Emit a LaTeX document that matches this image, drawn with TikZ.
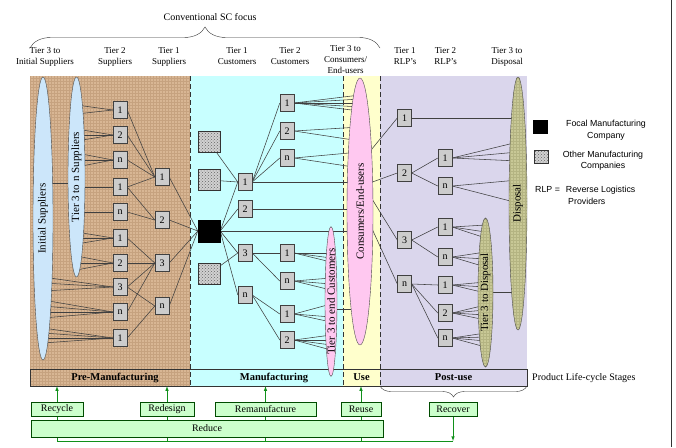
\documentclass[tikz,border=0pt]{standalone}
\usepackage{fontspec}
\setmainfont{Liberation Serif}
\newfontfamily\legendfont{Liberation Sans}
\usetikzlibrary{shapes.geometric,patterns,decorations.pathreplacing,calc}

\definecolor{colPre}{HTML}{D8B694}
\definecolor{colPreGrid}{HTML}{C6A27F}
\definecolor{colMfg}{HTML}{C8FFFF}
\definecolor{colUse}{HTML}{FFFFCC}
\definecolor{colPost}{HTML}{DAD6EC}
\definecolor{colBlue}{HTML}{CCE6FA}
\definecolor{colPink}{HTML}{FFC8F0}
\definecolor{colOlive}{HTML}{C8C896}
\definecolor{colOliveGrid}{HTML}{B4B482}
\definecolor{colR}{HTML}{CCFFCC}
\definecolor{colArrow}{HTML}{10901A}

\pgfdeclarelayer{bg}
\pgfdeclarelayer{fg}
\pgfsetlayers{bg,main,fg}

\tikzset{
	tierbox/.style={draw=black!75, fill=black!20, minimum width=14pt, minimum height=17pt, inner sep=0pt, font=\fontsize{10}{10}\selectfont},
	othersq/.style={draw=black!80, preaction={fill=black!18}, pattern=crosshatch dots, pattern color=black!60, minimum width=22pt, minimum height=21pt, inner sep=0pt},
	tierell/.style={ellipse, draw=black!70, rotate=90, inner xsep=0pt, inner ysep=-5pt, font=\fontsize{11}{11}\selectfont},
	dispell/.style={tierell, preaction={fill=colOlive}, pattern=grid, pattern color=colOliveGrid},
	link/.style={draw=black!75, line width=0.55pt},
	rbox/.style={draw=green!30!black, fill=colR, minimum height=14pt, inner sep=0pt, font=\fontsize{10}{10}\selectfont},
	rarrow/.style={draw=colArrow, -latex, line width=0.6pt},
	stagelab/.style={font=\bfseries\fontsize{10.5}{10.5}\selectfont, inner sep=0pt, minimum height=17pt},
	tierhead/.style={align=center, font=\fontsize{9}{11}\selectfont, inner sep=0pt},
	legtext/.style={align=center, font=\legendfont\fontsize{8.8}{11.5}\selectfont, inner sep=0pt},
	stageline/.style={black!80, dash pattern=on 5pt off 3pt, line width=0.6pt},
}

\begin{document}
\begin{tikzpicture}[x=1pt, y=-1pt]
	\useasboundingbox (0,0) rectangle (676,447);
	% stage areas
	\begin{pgfonlayer}{bg}
		\fill[colPre] (30,76) rectangle (190,386);
		\fill[pattern=grid, pattern color=colPreGrid] (30,76) rectangle (190,386);
		\fill[colMfg] (190,76) rectangle (343,386);
		\fill[colUse] (343,76) rectangle (380,386);
		\fill[colPost] (380,76) rectangle (527,386);
		\draw[stageline] (190,76) -- (190,386);
		\draw[stageline] (343,76) -- (343,386);
		\draw[stageline] (380,76) -- (380,386);
		\draw[black!80, line width=0.6pt] (30,369) rectangle (527,386);
		\draw[black!80, decorate, decoration={brace, amplitude=11pt}] (527,386) -- (380,386);
		\draw[black!80, decorate, decoration={brace, amplitude=21pt}] (30,48) -- (380,48);
		\draw[black!80, line width=0.8pt] (671,0) -- (671,447);
	\end{pgfonlayer}

	% ellipses and companies
	\begin{pgfonlayer}{fg}
		\node[tierell, fill=colBlue, minimum width=283pt, minimum height=20pt] (init) at (43,218.5) {Initial Suppliers};
		\node[tierell, fill=colBlue, minimum width=200pt, minimum height=17pt] (t3n) at (76.5,177) {Tier 3 to n Suppliers};
		\node[tierell, fill=colPink, minimum width=267pt, minimum height=26pt] (cons) at (360,211.5) {Consumers/End-users};
		\node[tierell, fill=colPink, minimum width=143pt, minimum height=12pt] (t3e) at (331,301.5) {Tier 3 to end Customers};
		\node[dispell, minimum width=253pt, minimum height=18pt] (disp) at (518,203.5) {Disposal};
		\node[dispell, minimum width=149pt, minimum height=15pt] (t3d) at (485.5,292.5) {Tier 3 to Disposal};

		\node[tierbox] (s2a) at (120,110) {1};
		\node[tierbox] (s2b) at (120,135) {2};
		\node[tierbox] (s2c) at (120,160) {n};
		\node[tierbox] (s2d) at (120,187) {1};
		\node[tierbox] (s2e) at (120,212) {n};
		\node[tierbox] (s2f) at (120,238) {1};
		\node[tierbox] (s2g) at (120,263) {2};
		\node[tierbox] (s2h) at (120,287) {3};
		\node[tierbox] (s2i) at (120,312) {n};
		\node[tierbox] (s2j) at (120,338) {1};
		\node[tierbox] (s1a) at (162,177) {1};
		\node[tierbox] (s1b) at (162,220) {2};
		\node[tierbox] (s1c) at (162,263) {3};
		\node[tierbox] (s1d) at (162,306) {n};

		\node[draw, fill=black, minimum size=22pt, inner sep=0pt] (focal) at (209,231) {};
		\node[othersq] (oth1) at (209,142) {};
		\node[othersq] (oth2) at (209,180) {};
		\node[othersq] (oth3) at (209,274) {};

		\node[tierbox] (c1a) at (245,182) {1};
		\node[tierbox] (c1b) at (245,209) {2};
		\node[tierbox] (c1c) at (245,253) {3};
		\node[tierbox] (c1d) at (245,295) {n};
		\node[tierbox] (c2a) at (287,103) {1};
		\node[tierbox] (c2b) at (287,131) {2};
		\node[tierbox] (c2c) at (287,158) {n};
		\node[tierbox] (c2d) at (287,253) {1};
		\node[tierbox] (c2e) at (287,281) {n};
		\node[tierbox] (c2f) at (287,314) {1};
		\node[tierbox] (c2g) at (287,340) {2};

		\node[tierbox] (r1a) at (404.5,118) {1};
		\node[tierbox] (r1b) at (404.5,173) {2};
		\node[tierbox] (r1c) at (404.5,240) {3};
		\node[tierbox] (r1d) at (404.5,284) {n};
		\node[tierbox] (r2a) at (445,158) {1};
		\node[tierbox] (r2b) at (445,186) {n};
		\node[tierbox] (r2c) at (445,227) {1};
		\node[tierbox] (r2d) at (445,257) {n};
		\node[tierbox] (r2e) at (445,285) {1};
		\node[tierbox] (r2f) at (445,313) {2};
		\node[tierbox] (r2g) at (445,338) {n};

		\node[rbox, minimum width=52pt] (recycle) at (57,409) {Recycle};
		\node[rbox, minimum width=54pt] (redesign) at (167,409) {Redesign};
		\node[rbox, minimum width=101pt] (reman) at (265.5,409) {Remanufacture};
		\node[rbox, minimum width=40pt] (reuse) at (361,409) {Reuse};
		\node[rbox, minimum width=48pt] (recover) at (453,409) {Recover};
		\node[rbox, minimum width=352pt, minimum height=17pt] (reduce) at (207,428.5) {Reduce};
	\end{pgfonlayer}

	% headings
	\node[font=\fontsize{10}{12}\selectfont] (focus) at (210,17) {Conventional SC focus};
	\node[tierhead] (hinit) at (45,56.5) {Tier 3 to\\Initial Suppliers};
	\node[tierhead] (hs2) at (115,56.5) {Tier 2\\Suppliers};
	\node[tierhead] (hs1) at (169,56.5) {Tier 1\\Suppliers};
	\node[tierhead] (hc1) at (237,56.5) {Tier 1\\Customers};
	\node[tierhead] (hc2) at (290,56.5) {Tier 2\\Customers};
	\node[tierhead] (hcons) at (345.5,60) {Tier 3 to\\Consumers/\\End-users};
	\node[tierhead] (hr1) at (405,56.5) {Tier 1\\RLP's};
	\node[tierhead] (hr2) at (445.5,56.5) {Tier 2\\RLP's};
	\node[tierhead] (hdisp) at (507,56.5) {Tier 3 to\\Disposal};

	% stages
	\node[stagelab, minimum width=160pt] (premfg) at (110,377.5) {\hspace*{10pt}Pre-Manufacturing};
	\node[stagelab, minimum width=153pt] (mfg) at (266.5,377.5) {\hspace*{15pt}Manufacturing};
	\node[stagelab, minimum width=37pt] (use) at (361.5,377.5) {Use};
	\node[stagelab, minimum width=147pt] (postuse) at (453.5,377.5) {Post-use};
	\node[font=\fontsize{10}{12}\selectfont, anchor=west, inner sep=0pt] (plcs) at (532,378) {Product Life-cycle Stages};

	% legend
	\node[draw, fill=black, minimum width=14pt, minimum height=13pt, inner sep=0pt] (legfocal) at (540,127) {};
	\node[legtext] (legfocaltext) at (606,130) {Focal Manufacturing\\Company};
	\node[othersq, minimum width=14pt, minimum height=13pt] (legother) at (541,157) {};
	\node[legtext] (legothertext) at (603,160.5) {Other Manufacturing\\Companies};
	\node[legtext, anchor=north west, align=left] (legrlp) at (535,186) {RLP =\hspace{6pt}Reverse Logistics\\\hspace*{33pt}Providers};

	% suppliers side
	\draw[link] ($(init.center |- s2d.west)+(0,-4)$) -- ($(t3n.center |- s2d.west)+(0,-4)$);
	\foreach \d in {-5,4} \draw[link] (s2a.west) -- ($(t3n.center |- s2a.west)+(0,\d)$);
	\foreach \d in {-6,0,6} \draw[link] (s2b.west) -- ($(t3n.center |- s2b.west)+(0,\d)$);
	\foreach \d in {-7,0,7} \draw[link] (s2c.west) -- ($(t3n.center |- s2c.west)+(0,\d)$);
	\draw[link] (s2d.west) -- (t3n.center |- s2d.west);
	\draw[link] (s2e.west) -- (t3n.center |- s2e.west);
	\foreach \d in {-6,0,6} \draw[link] (s2f.west) -- ($(t3n.center |- s2f.west)+(0,\d)$);
	\foreach \d in {-7,0,7} \draw[link] (s2g.west) -- ($(t3n.center |- s2g.west)+(0,\d)$);
	\foreach \d in {-10,-4,4} \draw[link] (s2h.west) -- ($(init.center |- s2h.west)+(0,\d)$);
	\foreach \d in {-12,-6,0,6} \draw[link] (s2i.west) -- ($(init.center |- s2i.west)+(0,\d)$);
	\foreach \d in {-10,-5,0,5} \draw[link] (s2j.west) -- ($(init.center |- s2j.west)+(0,\d)$);
	\draw[link] (s2a.east) -- (s1a.west);
	\draw[link] (s2b.east) -- (s1a.west);
	\draw[link] (s2c.east) -- (s1a.west);
	\draw[link] (s2d.east) -- (s1a.west);
	\draw[link] (s2d.east) -- (s1b.west);
	\draw[link] (s2e.east) -- (s1b.west);
	\draw[link] (s2f.east) -- (s1c.west);
	\draw[link] (s2g.east) -- (s1c.west);
	\draw[link] (s2h.east) -- (s1c.west);
	\draw[link] (s2i.east) -- (s1c.west);
	\draw[link] (s2h.east) -- (s1d.west);
	\draw[link] (s2j.east) -- (s1d.west);
	\draw[link] (s1a.east) -- (focal.west);
	\draw[link] (s1b.east) -- (focal.west);
	\draw[link] (s1c.east) -- (focal.west);
	\draw[link] (s1d.east) -- (focal.west);

	% customers side
	\draw[link] (focal.east) -- (c1a.west);
	\draw[link] (focal.east) -- (c1b.west);
	\draw[link] (focal.east) -- (c1c.west);
	\draw[link] (focal.east) -- (c1d.west);
	\draw[link] (focal.east) -- (cons.center |- focal.east);
	\draw[link] (oth1) -- (c1a.west);
	\draw[link] (oth2) -- (c1a.west);
	\draw[link] (oth3) -- (c1c.west);
	\draw[link] (c1a.east) -- (c2a.west);
	\draw[link] (c1a.east) -- (c2b.west);
	\draw[link] (c1a.east) -- (c2c.west);
	\draw[link] (c1a.east) -- (cons.center |- c1a.east);
	\draw[link] (c1b.east) -- (cons.center |- c1b.east);
	\draw[link] (c1c.east) -- (c2d.west);
	\draw[link] (c1c.east) -- (c2e.west);
	\draw[link] (c1d.east) -- (c2f.west);
	\draw[link] (c1d.east) -- (c2g.west);
	\foreach \d in {-8,-4,0,4,8} \draw[link] (c2a.east) -- ($(cons.center |- c2a.east)+(0,\d)$);
	\foreach \d in {-4,10} \draw[link] (c2b.east) -- ($(cons.center |- c2b.east)+(0,\d)$);
	\foreach \d in {-6,10} \draw[link] (c2c.east) -- ($(cons.center |- c2c.east)+(0,\d)$);
	\foreach \d in {0,5,9} \draw[link] (c2d.east) -- ($(t3e.center |- c2d.east)+(0,\d)$);
	\foreach \d in {-3,3,9} \draw[link] (c2e.east) -- ($(t3e.center |- c2e.east)+(0,\d)$);
	\foreach \d in {-10,3,8} \draw[link] (c2f.east) -- ($(t3e.center |- c2f.east)+(0,\d)$);
	\foreach \d in {-5,0,5,10} \draw[link] (c2g.east) -- ($(t3e.center |- c2g.east)+(0,\d)$);
	\draw[link] ($(t3e.center)+(0,8)$) -- ($(cons.center |- t3e.center)+(0,8)$);

	% reverse logistics side
	\draw[link] ($(cons.center)+(0,-48)$) -- (r1a.west);
	\draw[link] ($(cons.center)+(0,-25)$) -- (r1b.west);
	\draw[link] ($(cons.center)+(0,-32)$) -- (r1c.west);
	\draw[link] ($(cons.center)+(0,-9)$) -- (r1d.west);
	\draw[link] (r1a.east) -- (disp.center |- r1a.east);
	\draw[link] (r1b.east) -- (r2a.west);
	\draw[link] (r1b.east) -- (r2b.west);
	\draw[link] (r1c.east) -- (r2c.west);
	\draw[link] (r1c.east) -- (r2d.west);
	\draw[link] (r1d.east) -- (r2e.west);
	\draw[link] (r1d.east) -- (r2f.west);
	\draw[link] (r1d.east) -- (r2g.west);
	\foreach \d in {-16,-6,3} \draw[link] (r2a.east) -- ($(disp.center |- r2a.east)+(0,\d)$);
	\foreach \d in {-6,17} \draw[link] (r2b.east) -- ($(disp.center |- r2b.east)+(0,\d)$);
	\foreach \d in {-2,5,11} \draw[link] (r2c.east) -- ($(t3d.center |- r2c.east)+(0,\d)$);
	\foreach \d in {-5,2,10} \draw[link] (r2d.east) -- ($(t3d.center |- r2d.east)+(0,\d)$);
	\foreach \d in {-3,2,8} \draw[link] (r2e.east) -- ($(t3d.center |- r2e.east)+(0,\d)$);
	\foreach \d in {-8,-3,2,7} \draw[link] (r2f.east) -- ($(t3d.center |- r2f.east)+(0,\d)$);
	\foreach \d in {-5,-1,3,9} \draw[link] (r2g.east) -- ($(t3d.center |- r2g.east)+(0,\d)$);
	\draw[link] (t3d.center) -- (disp.center |- t3d.center);

	% R strategies
	\coordinate (retleft) at (57,441);
	\coordinate (retright) at (453,441);
	\draw[rarrow] (recycle.north) -- (recycle.north |- premfg.south);
	\draw[rarrow] (redesign.north) -- (redesign.north |- premfg.south);
	\draw[rarrow] (reman.north) -- (reman.north |- mfg.south);
	\draw[rarrow] (reuse.north) -- (reuse.north |- use.south);
	\draw[colArrow, line width=0.6pt] (retright) -- (retleft);
	\draw[colArrow, line width=0.6pt] (retleft) -- (recycle.south);
	\draw[colArrow, line width=0.6pt] (retleft -| redesign.south) -- (redesign.south);
	\draw[colArrow, line width=0.6pt] (retleft -| reman.south) -- (reman.south);
	\draw[colArrow, line width=0.6pt] (retleft -| reuse.south) -- (reuse.south);
	\draw[rarrow] (recover.south) -- (retright);
\end{tikzpicture}
\end{document}
